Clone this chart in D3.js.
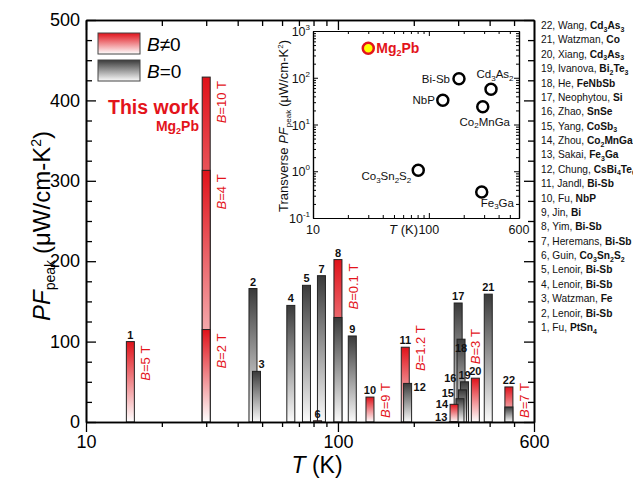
<!DOCTYPE html>
<html>
<head>
<meta charset="utf-8">
<script src="https://cdn.jsdelivr.net/npm/d3@7"></script>
<style>
  body { margin: 0; background: #fff; }
  svg { display: block; font-family: Arial, "Liberation Sans", sans-serif; }
</style>
</head>
<body>
<svg id="chart" width="633" height="478"></svg>
<script>
// bars, one entry per drawn bar (ref 0 = this work, Mg2Pb)
const barRef  = [1, 0, 0, 0, 2, 3, 4, 5, 6, 7, 8, 8, 9, 10, 11, 12, 13, 14, 15, 16, 17, 18, 19, 20, 21, 22, 22];
const barT    = [15, 30, 30, 30, 46, 47.5, 65, 75, 83, 86, 100, 100, 114, 134, 185, 189, 287, 289, 305, 312, 300, 308, 318, 351, 395, 477, 477];
const barPF   = [100, 429, 313, 115, 166, 63, 145, 170, 1.5, 182, 202, 130, 107, 31, 93, 48, 0.4, 22, 29, 40, 148, 103, 50, 54.5, 159, 43.6, 18.7];
const barOn   = [1, 1, 1, 1, 0, 0, 0, 0, 1, 0, 1, 0, 0, 1, 1, 0, 1, 1, 0, 0, 0, 0, 0, 1, 0, 1, 0];
const barNote = ["5", "10", "4", "2", "", "", "", "", "", "", "0.1", "", "", "9", "1.2", "", "", "", "", "", "", "", "", "3", "", "7", ""];
const barTag  = ["top", "", "", "", "top", "topright", "top", "top", "top", "top", "top", "", "top", "top", "top", "right",
                 "left", "left", "left", "left", "top", "inside", "top", "top", "top", "top", ""];

// references listed on the right
const refAuthors = ["Fu", "Lenoir", "Watzman", "Lenoir", "Lenoir", "Guin", "Heremans", "Yim", "Jin", "Fu", "Jandl",
                    "Chung", "Sakai", "Zhou", "Yang", "Zhao", "Neophytou", "He", "Ivanova", "Xiang", "Watzman", "Wang"];
const refMaterials = ["PtSn4", "Bi-Sb", "Fe", "Bi-Sb", "Bi-Sb", "Co3Sn2S2", "Bi-Sb", "Bi-Sb", "Bi", "NbP", "Bi-Sb",
                      "CsBi4Te6", "Fe3Ga", "Co2MnGa", "CoSb3", "SnSe", "Si", "FeNbSb", "Bi2Te3", "Cd3As3", "Co", "Cd3As3"];

// inset: transverse PF
const insetNames = ["Mg2Pb", "Bi-Sb", "NbP", "Cd3As2", "Co2MnGa", "Co3Sn2S2", "Fe3Ga"];
const insetT     = [30, 182, 132, 344, 292, 81, 286];
const insetPF    = [429, 95, 33, 57, 24, 1.05, 0.36];

const xTicksMain = [10, 100, 600];
const yTicksMain = [0, 100, 200, 300, 400, 500];

// layout tweaks for crowded labels
const tagNudge = {17: 0, 18: -6, 19: -12};
const noteNudge = {14: {lift: 26}, 23: {above: true}};
const insetTagAt = [[8, 5, "start"], [-9, 4, "end"], [-8, 4, "end"], [4, -11, "middle"], [2, 19, "middle"], [-7, 10, "end"], [-1, 15, "start"]];

const RED = "#e3141b";
const NBSP = "\u00a0";
const svg = d3.select("#chart");

function addFormula(sel, str, subSize, shift) {
  let down = false;
  str.split(/(\d+)/).filter(Boolean).forEach(p => {
    const t = sel.append("tspan").text(p);
    if (/^\d+$/.test(p)) {
      t.attr("font-size", subSize).attr("dy", shift);
      down = true;
    } else if (down) {
      t.attr("dy", -shift);
      down = false;
    }
  });
}

const defs = svg.append("defs");
function grad(id, top, bottom) {
  const g = defs.append("linearGradient").attr("id", id).attr("x1", 0).attr("y1", 0).attr("x2", 0).attr("y2", 1);
  g.append("stop").attr("offset", 0).attr("stop-color", top);
  g.append("stop").attr("offset", 1).attr("stop-color", bottom);
}
grad("gRed", "#e0121a", "#ffffff");
grad("gGray", "#3a3a3a", "#fbfbfb");

// main scales
const x = d3.scaleLog().domain([10, 600]).range([86, 534]);
const y = d3.scaleLinear().domain([0, 500]).range([422, 20]);
const bw = 8;

const bars = barRef.map((r, i) => ({i, r, T: barT[i], pf: barPF[i], on: barOn[i]}));
const order = bars.slice().sort((a, b) => b.pf - a.pf);

svg.append("g").selectAll("rect").data(order).join("rect")
  .attr("x", d => x(d.T) - bw / 2)
  .attr("y", d => y(d.pf))
  .attr("width", bw)
  .attr("height", d => y(0) - y(d.pf))
  .attr("fill", d => d.on ? "url(#gRed)" : "url(#gGray)")
  .attr("stroke", "#222")
  .attr("stroke-width", 1);

// number tags
const tags = svg.append("g").attr("font-size", 11).attr("font-weight", "bold").attr("fill", "#111");
bars.forEach(d => {
  const mode = barTag[d.i];
  if (!mode) return;
  const cx = x(d.T), top = y(d.pf);
  const t = tags.append("text").text(d.r);
  if (mode === "top") t.attr("x", cx).attr("y", Math.min(top - 3, y(0) - 2)).attr("text-anchor", "middle");
  else if (mode === "topright") t.attr("x", cx + 2).attr("y", top - 3);
  else if (mode === "right") t.attr("x", cx + bw / 2 + 2).attr("y", top + 8);
  else if (mode === "inside") t.attr("x", cx).attr("y", top + 13).attr("text-anchor", "middle");
  else if (mode === "left") t.attr("x", cx - bw / 2 - 2).attr("y", Math.min(top + 4 + (tagNudge[d.i] || 0), y(0) - 1)).attr("text-anchor", "end");
});

// field notes, rotated
const notes = svg.append("g").attr("font-size", 13).attr("fill", RED);
bars.forEach(d => {
  const v = barNote[d.i];
  if (!v) return;
  const cx = x(d.T), top = y(d.pf);
  const t = notes.append("text");
  t.append("tspan").attr("font-style", "italic").text("B");
  t.append("tspan").text("=" + v + NBSP + "T");
  const len = t.node().getComputedTextLength();
  const nd = noteNudge[d.i] || {};
  if (nd.above) {
    t.attr("text-anchor", "start").attr("transform", `translate(${cx + 4.7},${top - 14}) rotate(-90)`);
  } else {
    const endY = Math.min(top + 4, y(0) - 4 - len) - (nd.lift || 0);
    t.attr("text-anchor", "end").attr("transform", `translate(${cx + bw / 2 + 11 + 4.7},${endY}) rotate(-90)`);
  }
});

// main axes
function styleAxis(g) {
  g.attr("font-size", 18).attr("font-family", null).attr("color", "#000");
  g.selectAll(".domain").attr("stroke-width", 1.6);
  g.selectAll(".tick line").attr("stroke-width", 1.3);
}
const yMinor = d3.range(0, 501, 25).filter(v => v % 100);
const xMinor = [20, 30, 40, 50, 60, 70, 80, 90, 200, 300, 400, 500];

svg.append("g").attr("transform", "translate(86,0)")
  .call(d3.axisLeft(y).tickValues(yTicksMain).tickSize(-10).tickSizeOuter(0).tickPadding(6)).call(styleAxis);
svg.append("g").attr("transform", "translate(86,0)")
  .call(d3.axisLeft(y).tickValues(yMinor).tickSize(-6).tickSizeOuter(0).tickFormat("")).call(styleAxis);
svg.append("g").attr("transform", "translate(534,0)")
  .call(d3.axisRight(y).tickValues(yTicksMain).tickSize(-10).tickSizeOuter(0).tickFormat("")).call(styleAxis);
svg.append("g").attr("transform", "translate(534,0)")
  .call(d3.axisRight(y).tickValues(yMinor).tickSize(-6).tickSizeOuter(0).tickFormat("")).call(styleAxis);
svg.append("g").attr("transform", "translate(0,422)")
  .call(d3.axisBottom(x).tickValues(xTicksMain).tickSize(10).tickSizeOuter(0).tickPadding(3).tickFormat(d3.format("d"))).call(styleAxis);
svg.append("g").attr("transform", "translate(0,422)")
  .call(d3.axisBottom(x).tickValues(xMinor).tickSize(5).tickSizeOuter(0).tickFormat("")).call(styleAxis);
svg.append("g").attr("transform", "translate(0,20)")
  .call(d3.axisTop(x).tickValues([10, 100]).tickSize(-10).tickSizeOuter(0).tickFormat("")).call(styleAxis);
svg.append("g").attr("transform", "translate(0,20)")
  .call(d3.axisTop(x).tickValues(xMinor).tickSize(-6).tickSizeOuter(0).tickFormat("")).call(styleAxis);

// axis titles
const yTitle = svg.append("text").attr("font-size", 24).attr("text-anchor", "middle")
  .attr("transform", "translate(50,226) rotate(-90)");
yTitle.append("tspan").attr("font-style", "italic").text("PF");
yTitle.append("tspan").attr("font-size", 14).attr("dy", 5).text("peak");
yTitle.append("tspan").attr("dy", -5).attr("dx", 6).text("(\u03bcW/cm-K");
yTitle.append("tspan").attr("font-size", 14).attr("dy", -9).text("2");
yTitle.append("tspan").attr("dy", 9).text(")");

const xTitle = svg.append("text").attr("font-size", 23).attr("text-anchor", "middle").attr("x", 317).attr("y", 473);
xTitle.append("tspan").attr("font-style", "italic").text("T");
xTitle.append("tspan").text(NBSP + "(K)");

// legend
const legend = svg.append("g");
[["gRed", "\u2260"], ["gGray", "="]].forEach(([g, sym], k) => {
  legend.append("rect").attr("x", 98).attr("y", 33 + k * 27).attr("width", 42).attr("height", 21)
    .attr("fill", `url(#${g})`).attr("stroke", "#444").attr("stroke-width", 1);
  const t = legend.append("text").attr("x", 147).attr("y", 51 + k * 27).attr("font-size", 19);
  t.append("tspan").attr("font-style", "italic").text("B");
  t.append("tspan").text(sym + "0");
});

svg.append("text").attr("x", 199).attr("y", 114).attr("text-anchor", "end")
  .attr("font-size", 19.5).attr("font-weight", "bold").attr("fill", RED).text("This work");
const mg = svg.append("text").attr("x", 199).attr("y", 131).attr("text-anchor", "end")
  .attr("font-size", 14).attr("font-weight", "bold").attr("fill", RED);
addFormula(mg, "Mg2Pb", 9, 3);

// reference list
const refY = d3.scaleLinear().domain([22, 1]).range([29, 331]);
const list = svg.append("g").attr("font-size", 10.2).attr("fill", "#111");
refAuthors.forEach((a, k) => {
  const n = k + 1;
  const t = list.append("text").attr("x", 541).attr("y", refY(n));
  t.append("tspan").text(`${n},${NBSP}${a},${NBSP}`);
  const b = t.append("tspan").attr("font-weight", "bold");
  addFormula(b, refMaterials[k], 7, 2.5);
});

// inset
const ix = d3.scaleLog().domain([10, 600]).range([313, 519]);
const iy = d3.scaleLog().domain([0.1, 1000]).range([218, 31]);
const inset = svg.append("g");
inset.append("rect").attr("x", 313).attr("y", 31).attr("width", 206).attr("height", 187).attr("fill", "#fff");

function styleInset(g) {
  g.attr("font-size", 12).attr("font-family", null).attr("color", "#000");
  g.selectAll(".domain").attr("stroke-width", 1.2);
  g.selectAll(".tick line").attr("stroke-width", 1);
}
const iyMajor = [0.1, 1, 10, 100, 1000];
const iyMinor = [];
[0.1, 1, 10, 100].forEach(d => d3.range(2, 10).forEach(m => iyMinor.push(d * m)));
inset.append("g").attr("transform", "translate(313,0)").call(d3.axisLeft(iy).tickValues(iyMajor).tickSize(-5).tickSizeOuter(0).tickFormat("")).call(styleInset);
inset.append("g").attr("transform", "translate(313,0)").call(d3.axisLeft(iy).tickValues(iyMinor).tickSize(-3).tickSizeOuter(0).tickFormat("")).call(styleInset);
inset.append("g").attr("transform", "translate(519,0)").call(d3.axisRight(iy).tickValues(iyMajor).tickSize(-5).tickSizeOuter(0).tickFormat("")).call(styleInset);
inset.append("g").attr("transform", "translate(519,0)").call(d3.axisRight(iy).tickValues(iyMinor).tickSize(-3).tickSizeOuter(0).tickFormat("")).call(styleInset);
inset.append("g").attr("transform", "translate(0,218)").call(d3.axisBottom(ix).tickValues([10, 100, 600]).tickSize(-5).tickSizeOuter(0).tickFormat("")).call(styleInset);
inset.append("g").attr("transform", "translate(0,218)").call(d3.axisBottom(ix).tickValues(xMinor).tickSize(-3).tickSizeOuter(0).tickFormat("")).call(styleInset);
inset.append("g").attr("transform", "translate(0,31)").call(d3.axisTop(ix).tickValues([10, 100]).tickSize(-5).tickSizeOuter(0).tickFormat("")).call(styleInset);
inset.append("g").attr("transform", "translate(0,31)").call(d3.axisTop(ix).tickValues(xMinor).tickSize(-3).tickSizeOuter(0).tickFormat("")).call(styleInset);

// inset tick labels
const itl = inset.append("g").attr("font-size", 12.5).attr("fill", "#111");
iyMajor.forEach(v => {
  const t = itl.append("text").attr("x", 310).attr("y", iy(v) + 5).attr("text-anchor", "end");
  t.append("tspan").text("10");
  t.append("tspan").attr("font-size", 8).attr("dy", -6).text(Math.round(Math.log10(v)));
});
[10, 100, 600].forEach(v => {
  itl.append("text").attr("x", ix(v)).attr("y", 234).attr("text-anchor", "middle").text(v);
});
const ixT = itl.append("text").attr("x", 418).attr("y", 234).attr("text-anchor", "end").attr("font-size", 13);
ixT.append("tspan").attr("font-style", "italic").text("T");
ixT.append("tspan").text(NBSP + "(K)");

const iyT = inset.append("text").attr("font-size", 13).attr("fill", "#111").attr("text-anchor", "middle")
  .attr("transform", "translate(288,126) rotate(-90)");
iyT.append("tspan").text("Transverse" + NBSP);
iyT.append("tspan").attr("font-style", "italic").text("PF");
iyT.append("tspan").attr("font-size", 8).attr("dy", 3).text("peak");
iyT.append("tspan").attr("dy", -3).attr("dx", 3).text("(\u03bcW/cm-K");
iyT.append("tspan").attr("font-size", 8).attr("dy", -5).text("2");
iyT.append("tspan").attr("dy", 5).text(")");

// inset points
insetNames.forEach((name, k) => {
  const cx = ix(insetT[k]), cy = iy(insetPF[k]);
  const me = k === 0;
  inset.append("circle").attr("cx", cx).attr("cy", cy).attr("r", 5.5)
    .attr("fill", me ? "#ffff00" : "#fff").attr("stroke", me ? RED : "#000").attr("stroke-width", 2.5);
  const [dx, dy, anchor] = insetTagAt[k];
  const t = inset.append("text").attr("x", cx + dx).attr("y", cy + dy).attr("text-anchor", anchor)
    .attr("font-size", me ? 14 : 11.5).attr("font-weight", me ? "bold" : null).attr("fill", me ? RED : "#111");
  addFormula(t, name, me ? 9 : 8, me ? 3 : 2.5);
});
</script>
</body>
</html>
